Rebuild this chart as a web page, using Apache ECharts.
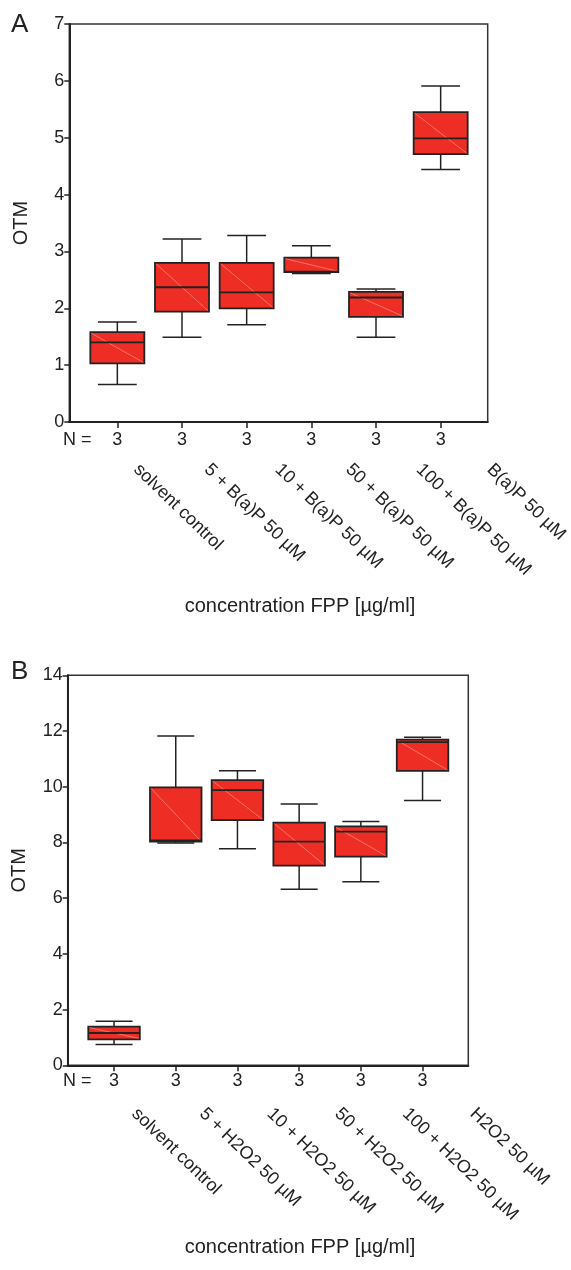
<!DOCTYPE html>
<html><head><meta charset="utf-8">
<script src="https://cdn.jsdelivr.net/npm/echarts@6/dist/echarts.min.js"></script>
<style>html,body{margin:0;padding:0;background:#fff}#c{width:571px;height:1270px}</style>
</head><body><div id="c"></div>
<script>
// ---- Data: panel A ----
const categoriesA = ['solvent control','5 + B(a)P 50 µM','10 + B(a)P 50 µM','50 + B(a)P 50 µM','100 + B(a)P 50 µM','B(a)P 50 µM'];
const nA   = [3,3,3,3,3,3];
const minA = [0.66,1.49,1.71,2.61,1.49,4.44];
const q1A  = [1.03,1.94,2.00,2.635,1.85,4.71];
const medA = [1.40,2.37,2.28,2.645,2.19,4.99];
const q3A  = [1.58,2.80,2.80,2.89,2.29,5.45];
const maxA = [1.76,3.22,3.28,3.10,2.34,5.91];
const yTicksA = [0,7,1]; // min, max, step

// ---- Data: panel B ----
const categoriesB = ['solvent control','5 + H2O2 50 µM','10 + H2O2 50 µM','50 + H2O2 50 µM','100 + H2O2 50 µM','H2O2 50 µM'];
const nB   = [3,3,3,3,3,3];
const minB = [0.75,7.98,7.77,6.32,6.59,9.51];
const q1B  = [0.93,8.03,8.80,7.17,7.49,10.57];
const medB = [1.16,8.07,9.88,8.03,8.39,11.60];
const q3B  = [1.39,9.98,10.24,8.71,8.58,11.69];
const maxB = [1.58,11.82,10.57,9.38,8.75,11.78];
const yTicksB = [0,14,2];

const yName = 'OTM';
const xName = 'concentration FPP [µg/ml]';

const FONT = '"Liberation Sans", Arial, sans-serif';
const INK = '#222';
const RED = '#ee2e24';

function rows(mn,q1,md,q3,mx){ return mn.map((v,i)=>[i,v,q1[i],md[i],q3[i],mx[i]]); }

function renderBox(params, api){
  const x = api.value(0);
  const pMin = api.coord([x, api.value(1)]);
  const pQ1  = api.coord([x, api.value(2)]);
  const pMed = api.coord([x, api.value(3)]);
  const pQ3  = api.coord([x, api.value(4)]);
  const pMax = api.coord([x, api.value(5)]);
  const band = api.size([1,0])[0];
  const half = band*0.835/2, cap = band*0.6/2;
  const cx = pMin[0];
  const ls = {stroke: INK, lineWidth: 1.5};
  return {type:'group', children:[
    {type:'line', shape:{x1:cx,y1:pQ3[1],x2:cx,y2:pMax[1]}, style:ls},
    {type:'line', shape:{x1:cx,y1:pQ1[1],x2:cx,y2:pMin[1]}, style:ls},
    {type:'line', shape:{x1:cx-cap,y1:pMax[1],x2:cx+cap,y2:pMax[1]}, style:ls},
    {type:'line', shape:{x1:cx-cap,y1:pMin[1],x2:cx+cap,y2:pMin[1]}, style:ls},
    {type:'rect', shape:{x:cx-half,y:pQ3[1],width:2*half,height:pQ1[1]-pQ3[1]}, style:{fill:RED, stroke:INK, lineWidth:1.8}},
    {type:'line', shape:{x1:cx-half+1,y1:pQ3[1]+1,x2:cx+half-1,y2:pQ1[1]-1}, style:{stroke:'rgba(255,200,190,0.75)', lineWidth:0.6}},
    {type:'line', shape:{x1:cx-half,y1:pMed[1],x2:cx+half,y2:pMed[1]}, style:{stroke:INK,lineWidth:1.8}}
  ]};
}

function frameX(gi){
  return {gridIndex:gi, type:'value', min:0, max:1, axisLine:{show:true,onZero:false,lineStyle:{color:INK,width:2}},
    axisTick:{show:false}, axisLabel:{show:false}, splitLine:{show:false}};
}
function nAxis(gi, cats, ns, margin){
  return {gridIndex:gi, type:'category', data:cats, axisLine:{show:false},
    axisTick:{show:true, alignWithLabel:true, length:6, lineStyle:{color:INK,width:1.5}},
    axisLabel:{interval:0, margin:margin, fontSize:18, fontFamily:FONT, color:INK, formatter:(v,i)=>String(ns[i])},
    splitLine:{show:false}};
}
function catAxis(gi, cats, margin){
  return {gridIndex:gi, type:'category', data:cats, position:'bottom', axisLine:{show:false}, axisTick:{show:false},
    axisLabel:{interval:0, rotate:-44, margin:margin, padding:[0,0,0,20], fontSize:18, fontFamily:FONT, color:INK},
    splitLine:{show:false}};
}
function valY(gi, t){
  return {gridIndex:gi, type:'value', min:t[0], max:t[1], interval:t[2],
    axisLine:{show:true, lineStyle:{color:INK,width:2}},
    axisTick:{show:true, length:5, lineStyle:{color:INK,width:1.5}},
    axisLabel:{margin:5, fontSize:18, fontFamily:FONT, color:INK},
    splitLine:{show:false},
    name:yName, nameLocation:'middle', nameGap:38, nameRotate:90,
    nameTextStyle:{fontSize:20, fontFamily:FONT, color:INK}};
}
function hidY(gi, t){ return {gridIndex:gi, type:'value', min:t[0], max:t[1], show:false}; }

function txt(s, x, y, size, align){
  return {type:'text', x:x, y:y, style:{text:s, fontSize:size, fontFamily:FONT, fill:INK, align:align||'left', verticalAlign:'middle'}};
}

const chart = echarts.init(document.getElementById('c'));
chart.setOption({
  animation:false,
  backgroundColor:'#fff',
  grid:[
    {left:69.3, top:24, width:418.4, height:398, show:true, borderColor:'#333', borderWidth:1.5},
    {left:85, top:24, width:388, height:398},
    {left:86.6, top:24, width:425, height:398},
    {left:67.7, top:675.3, width:400.6, height:390, show:true, borderColor:'#333', borderWidth:1.5},
    {left:83.2, top:675.3, width:370.2, height:390},
    {left:86.2, top:675.3, width:406, height:390}
  ],
  xAxis:[
    frameX(0), nAxis(1, categoriesA, nA, 9), catAxis(2, categoriesA, 31),
    frameX(3), nAxis(4, categoriesB, nB, 6.5), catAxis(5, categoriesB, 32)
  ],
  yAxis:[ valY(0, yTicksA), hidY(1, yTicksA), hidY(2, yTicksA), valY(3, yTicksB), hidY(4, yTicksB), hidY(5, yTicksB) ],
  series:[
    {type:'custom', xAxisIndex:1, yAxisIndex:1, data:rows(minA,q1A,medA,q3A,maxA), encode:{x:0,y:[1,2,3,4,5]}, renderItem:renderBox, silent:true},
    {type:'custom', xAxisIndex:4, yAxisIndex:4, data:rows(minB,q1B,medB,q3B,maxB), encode:{x:0,y:[1,2,3,4,5]}, renderItem:renderBox, silent:true}
  ],
  graphic:[
    txt('A', 11, 25, 26),
    txt('B', 11, 672, 26),
    txt('N =', 63, 440, 18),
    txt('N =', 63, 1081, 18),
    txt(xName, 300, 606.5, 20, 'center'),
    txt(xName, 300, 1247, 20, 'center')
  ]
});
</script></body></html>
